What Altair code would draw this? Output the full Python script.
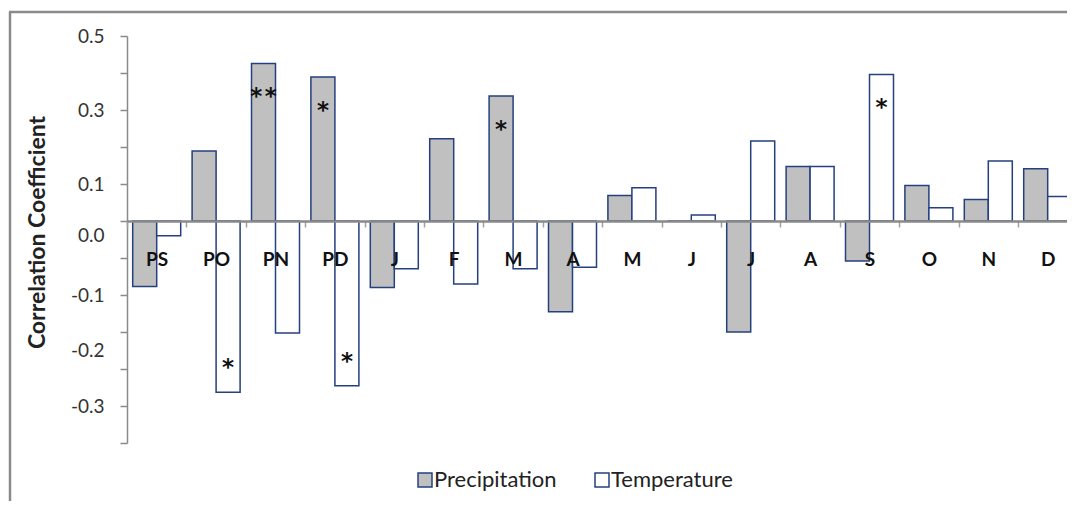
import altair as alt
import pandas as pd

# ---- data ----
categories = ["PS", "PO", "PN", "PD", "J", "F", "M", "A", "M", "J", "J", "A", "S", "O", "N", "D"]
precipitation = [-0.177, 0.189, 0.426, 0.389, -0.180, 0.222, 0.338, -0.245,
                 0.069, 0.0, -0.300, 0.147, -0.108, 0.096, 0.058, 0.141]
temperature = [-0.040, -0.463, -0.303, -0.445, -0.129, -0.170, -0.129, -0.125,
               0.090, 0.016, 0.216, 0.147, 0.396, 0.036, 0.162, 0.066]
sig_precipitation = ["", "", "*\u200a*", "*", "", "", "*", "", "", "", "", "", "", "", "", ""]
sig_temperature = ["", "*", "", "*", "", "", "", "", "", "", "", "", "*", "", "", ""]
series_names = ["Precipitation", "Temperature"]
series_fills = ["#c0c0c0", "#ffffff"]

y_tick_values = [0.5, 0.4, 0.3, 0.2, 0.1, 0.0, -0.1, -0.2, -0.3, -0.4, -0.5, -0.6]
y_label_values = [0.5, 0.3, 0.1, -0.04, -0.2, -0.35, -0.5]
y_label_texts = ["0.5", "0.3", "0.1", "0.0", "-0.1", "-0.2", "-0.3"]

FONT = "Lato"
NAVY = "#24407f"
GRAY = "#8a8a8a"

rows = []
for i, c in enumerate(categories):
    rows.append({"idx": i, "series": series_names[0], "value": precipitation[i], "sig": sig_precipitation[i]})
    rows.append({"idx": i, "series": series_names[1], "value": temperature[i], "sig": sig_temperature[i]})
df = pd.DataFrame(rows)

x_label_expr = "[" + ",".join(f"'{c}'" for c in categories) + "][datum.value]"
y_label_expr = " : ".join(
    f"abs(datum.value - ({v})) < 0.001 ? '{t}'" for v, t in zip(y_label_values, y_label_texts)
) + " : ''"
all_y_values = y_tick_values + [v for v in y_label_values if v not in y_tick_values]

W, H = 940, 407
x_scale = alt.Scale(range=[0, 950.4], paddingInner=0, paddingOuter=0)
xoff_scale = alt.Scale(domain=series_names, paddingInner=0, paddingOuter=0.2375)
y_scale = alt.Scale(domain=[-0.6, 0.5], nice=False, zero=False)

x_axis = alt.Axis(
    title=None, orient="bottom", offset=-(H - H * 0.5 / 1.1),
    domainColor=GRAY, domainWidth=2.5,
    tickColor="#a0a0a0", tickWidth=1.5, tickSize=6, tickBand="extent",
    labelExpr=x_label_expr, labelFont=FONT, labelFontSize=19, labelFontWeight="bold",
    labelColor="#111111", labelPadding=32, labelBaseline="middle", labelAngle=0,
    zindex=1,
)
y_axis = alt.Axis(
    title="Correlation Coefficient", values=all_y_values,
    domainColor=GRAY, domainWidth=1.5,
    tickColor=GRAY, tickWidth=1.5, tickSize=7,
    tickOpacity={"condition": {"test": "abs(datum.value*10 - round(datum.value*10)) > 0.01", "value": 0}, "value": 1},
    labelExpr=y_label_expr, labelFont=FONT, labelFontSize=19, labelColor="#333333",
    labelPadding=16, grid=False,
    titleFont=FONT, titleFontSize=23, titleFontWeight="bold", titleColor="#222222",
    titleX=-90, titleY=196, titleAngle=270, titleAlign="center", titleBaseline="middle",
)

base = alt.Chart(df)

bars = base.mark_bar(stroke=NAVY, strokeWidth=1.5).encode(
    x=alt.X("idx:O", scale=x_scale, axis=x_axis),
    xOffset=alt.XOffset("series:N", scale=xoff_scale, sort=series_names),
    y=alt.Y("value:Q", scale=y_scale, axis=y_axis),
    color=alt.Color(
        "series:N",
        scale=alt.Scale(domain=series_names, range=series_fills),
        legend=alt.Legend(
            title=None, orient="none", legendX=287, legendY=433, direction="horizontal",
            symbolType="square", symbolSize=196, symbolStrokeColor=NAVY, symbolStrokeWidth=1.5,
            symbolOpacity=1, labelFont=FONT, labelFontSize=22, labelColor="#222222",
            labelOffset={"expr": "-2"}, columnPadding=34,
        ),
    ),
)

stars = base.transform_filter("datum.sig != ''").transform_calculate(
    ypos="datum.value - (datum.value > 0 ? 1 : -1) * 0.078"
).mark_text(font="DejaVu Sans", fontSize=23, fontWeight="bold", color="#111111",
            baseline="alphabetic", dy=12).encode(
    x=alt.X("idx:O", scale=x_scale, axis=x_axis),
    xOffset=alt.XOffset("series:N", scale=xoff_scale, sort=series_names),
    y=alt.Y("ypos:Q", scale=y_scale, axis=y_axis),
    text="sig:N",
)

frame_df = pd.DataFrame({"k": [0]})
frame_v = alt.Chart(frame_df).mark_rule(color=GRAY, strokeWidth=2.5).encode(
    x=alt.value(-117), y=alt.value(-24), y2=alt.value(490)
)
frame_h = alt.Chart(frame_df).mark_rule(color=GRAY, strokeWidth=2.5).encode(
    x=alt.value(-118), x2=alt.value(960), y=alt.value(-24)
)

chart = alt.layer(frame_v, frame_h, bars, stars).properties(
    width=W, height=H,
    autosize=alt.AutoSizeParams(type="none"),
    padding={"left": 119, "top": 28, "right": 0, "bottom": 58},
).configure(font=FONT).configure_view(stroke=None)

chart.save("out.html", embed_options={"renderer": "svg", "actions": False})
